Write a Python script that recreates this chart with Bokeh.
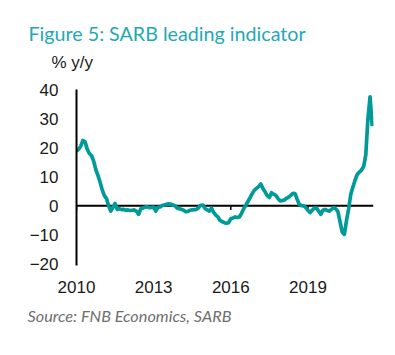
from bokeh.plotting import figure
from bokeh.models import Range1d, FixedTicker, Title, Span
from bokeh.embed import file_html
from bokeh.resources import INLINE

# SARB leading indicator, % y/y, monthly from Jan 2010
start_year = 2010
values = [
    18.8, 19.5, 20.5, 22.5, 22.0, 19.5, 18.0, 17.3, 15.4, 12.5, 10.5, 8.2,    # 2010
    5.5, 3.5, 2.5, 0.0, -1.8, -0.5, 0.8, -1.2, -1.0, -1.3, -1.2, -1.5,        # 2011
    -1.4, -1.6, -1.5, -1.4, -1.9, -2.9, -1.0, -0.8, -0.4, -0.3, -0.6, -0.5,   # 2012
    -0.4, -1.8, -0.5, -0.4, 0.1, 0.3, 0.5, 0.7, 0.6, 0.3, 0.0, -0.8,          # 2013
    -1.0, -1.2, -1.5, -2.0, -1.9, -1.5, -1.4, -1.3, -1.2, -0.6, 0.2, 0.3,     # 2014
    -0.9, -1.4, -1.8, -0.8, -2.2, -3.2, -3.8, -5.0, -5.4, -5.8, -6.0, -5.8,   # 2015
    -4.4, -4.2, -3.8, -4.0, -3.8, -2.6, -1.0, 0.2, 1.5, 2.8, 4.2, 5.4,        # 2016
    6.0, 6.6, 7.5, 6.0, 4.8, 3.5, 2.9, 4.5, 4.0, 3.6, 2.6, 1.7,               # 2017
    1.8, 2.0, 2.6, 3.0, 3.6, 4.3, 4.2, 2.2, 0.5, 0.1, 0.0, -0.6,              # 2018
    -1.5, -2.3, -1.5, -0.8, -0.8, -1.8, -2.9, -1.5, -1.2, -1.6, -1.8, -1.2,   # 2019
    -0.6, -1.0, -2.0, -5.5, -9.0, -9.8, -5.0, -1.0, 4.0, 6.5, 8.8, 10.8,      # 2020
    11.6, 12.3, 13.5, 17.5, 30.0, 37.5, 27.4,                                 # 2021
]
years = [start_year + i / 12 for i in range(len(values))]

tick_years = [2010, 2013, 2016, 2019]
tick_labels = ["2010", "2013", "2016", "2019"]
y_ticks = [-20, -10, 0, 10, 20, 30, 40]

title_text = "Figure 5: SARB leading indicator"
unit_text = "% y/y"
source_text = "Source: FNB Economics, SARB"

TEAL_LINE = "#009b98"
TEAL_TITLE = "#1fa9b4"
LABEL_FONT = "Liberation Sans"
TITLE_FONT = "Lato"
TICK_LEN = 1.4  # zero-line tick length in y units (about 4 px)

p = figure(width=380, height=335,
           x_range=Range1d(2010, 2021.55), y_range=Range1d(-20.5, 40),
           output_backend="svg", toolbar_location=None,
           min_border_left=76, min_border_right=7,
           min_border_top=89, min_border_bottom=70)
p.outline_line_color = None
p.grid.visible = False

# y axis
yax = p.yaxis[0]
yax.ticker = FixedTicker(ticks=y_ticks)
yax.major_tick_out = 0
yax.major_tick_in = 0
yax.minor_tick_out = 0
yax.minor_tick_in = 0
yax.axis_line_width = 2
yax.axis_line_color = "black"
yax.major_label_standoff = 18
yax.major_label_text_font = LABEL_FONT
yax.major_label_text_font_size = "17px"
yax.major_label_text_color = "#1a1a1a"

# bottom labels axis
xax = p.xaxis[0]
xax.ticker = FixedTicker(ticks=tick_years)
xax.major_label_overrides = {t: l for t, l in zip(tick_years, tick_labels)}
xax.axis_line_color = None
xax.major_tick_out = 0
xax.major_tick_in = 0
xax.minor_tick_out = 0
xax.minor_tick_in = 0
xax.major_label_standoff = 15
xax.major_label_text_font = LABEL_FONT
xax.major_label_text_font_size = "17px"
xax.major_label_text_color = "#1a1a1a"

# zero line with small downward ticks
p.add_layout(Span(location=0, dimension="width", line_color="black",
                  line_width=2, level="underlay"))
p.segment(x0=tick_years, y0=[0] * len(tick_years), x1=tick_years,
          y1=[-TICK_LEN] * len(tick_years), line_color="black", line_width=1.5)

p.line(years, values, line_color=TEAL_LINE, line_width=3.7, line_join="round")

p.add_layout(Title(text=unit_text, align="left", offset=-25, text_font=LABEL_FONT,
                   text_font_size="17px", text_font_style="normal",
                   text_color="#1a1a1a", standoff=35), "above")
p.add_layout(Title(text=title_text, align="left", offset=-48, text_font=TITLE_FONT,
                   text_font_size="19.7px", text_font_style="normal",
                   text_color=TEAL_TITLE, standoff=-22), "above")
p.add_layout(Title(text=source_text, align="left", offset=-49, text_font=TITLE_FONT,
                   text_font_size="16.3px", text_font_style="italic",
                   text_color="#6e6e6e", standoff=17), "below")

open("out.html", "w").write(file_html(p, INLINE))
